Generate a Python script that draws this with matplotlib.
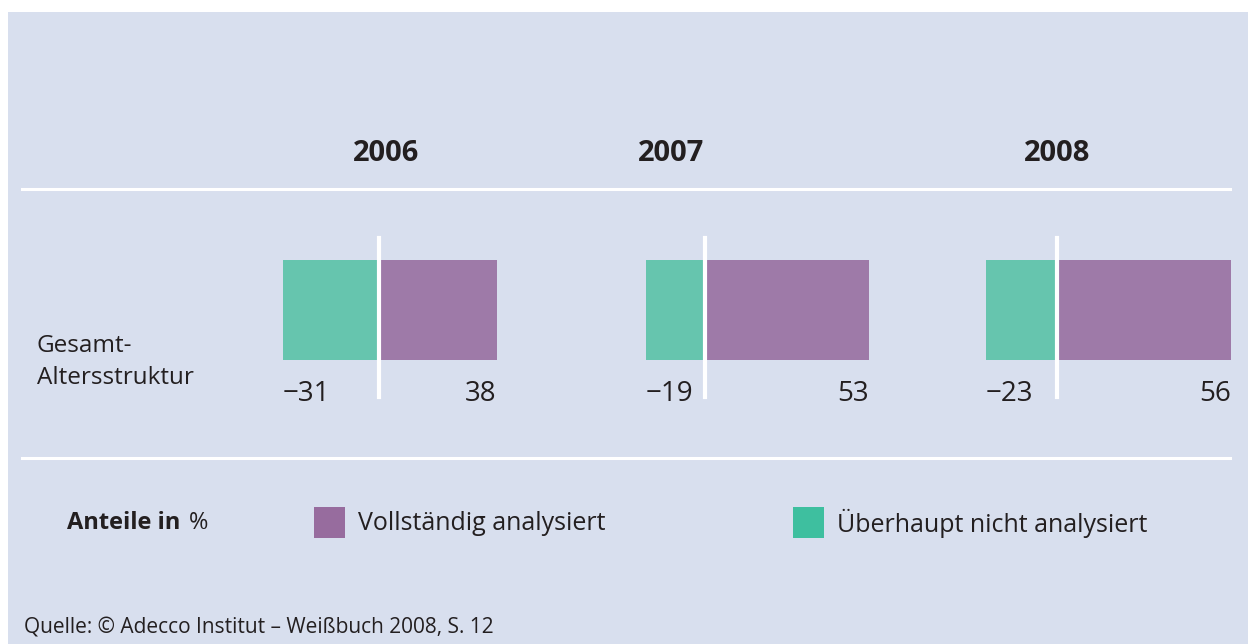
import matplotlib.pyplot as plt
from matplotlib.patches import Rectangle

plt.rcParams['font.family'] = ['Open Sans', 'DejaVu Sans']

years = ['2006', '2007', '2008']
vollstaendig = [38, 53, 56]
ueberhaupt_nicht = [-31, -19, -23]
row_label = 'Gesamt-\nAltersstruktur'
legend_labels = ['Vollständig analysiert', 'Überhaupt nicht analysiert']
source = 'Quelle: © Adecco Institut – Weißbuch 2008, S. 12'

bg = '#d8dfee'
purple = '#9e7aa8'
green = '#66c5ae'
purple_leg = '#976c9e'
green_leg = '#3ebf9f'
txt = '#231f20'

W, H = 1248, 644
fig = plt.figure(figsize=(W / 100, H / 100), dpi=100)
fig.patch.set_facecolor('white')


def fx(px):
    return px / W


def fy(py):
    return 1 - py / H


# background panel
fig.patches.append(Rectangle((fx(8), 0), 1 - fx(8), fy(12), transform=fig.transFigure,
                             facecolor=bg, edgecolor='none', zorder=-5))

# horizontal white rules
for py in [189, 458]:
    fig.add_artist(plt.Line2D([fx(22), fx(1230)], [fy(py), fy(py)], color='white',
                              lw=2.2, transform=fig.transFigure))

# year headers
for year, px in zip(years, [386, 671, 1057]):
    fig.text(fx(px), fy(154), year, ha='center', va='center', fontsize=21,
             fontweight='bold', color=txt)

fig.text(fx(37), fy(362), row_label, ha='left', va='center', fontsize=17.5,
         color=txt, linespacing=1.4)

# one small axes per year, zero line at the given pixel, 3.1 px per percent
scale = 3.1
zeros = [379, 705, 1057]
xmin, xmax = -40, 65
for zero, pos, neg in zip(zeros, vollstaendig, ueberhaupt_nicht):
    left = zero + xmin * scale
    ax = fig.add_axes([fx(left), fy(420), (xmax - xmin) * scale / W, 220 / H])
    ax.set_xlim(xmin, xmax)
    ax.set_ylim(-1.1, 1.1)
    ax.axis('off')
    ax.barh(0, neg, height=1.0, color=green, zorder=1)
    ax.barh(0, pos, height=1.0, color=purple, zorder=1)
    ax.axvline(0, ymin=(1.1 - 0.87) / 2.2, ymax=(1.1 + 0.72) / 2.2, color='white',
               lw=3, zorder=2)
    ax.text(neg, -0.84, '−%d' % abs(neg), ha='left', va='center', fontsize=20, color=txt)
    ax.text(pos, -0.84, '%d' % pos, ha='right', va='center', fontsize=20, color=txt)

# legend
fig.text(fx(67), fy(523), 'Anteile in', ha='left', va='center', fontsize=17,
         fontweight='bold', color=txt)
fig.text(fx(189), fy(523), '%', ha='left', va='center', fontsize=17, color=txt)
for px, col, lab in zip([314, 793], [purple_leg, green_leg], legend_labels):
    fig.patches.append(Rectangle((fx(px), fy(538)), 31 / W, 31 / H,
                                 transform=fig.transFigure, facecolor=col, edgecolor='none'))
    fig.text(fx(px + 44), fy(523), lab, ha='left', va='center', fontsize=18, color=txt)

fig.text(fx(24), fy(628), source, ha='left', va='center', fontsize=15, color=txt)

fig.savefig('out.png', dpi=100, facecolor=fig.get_facecolor())
